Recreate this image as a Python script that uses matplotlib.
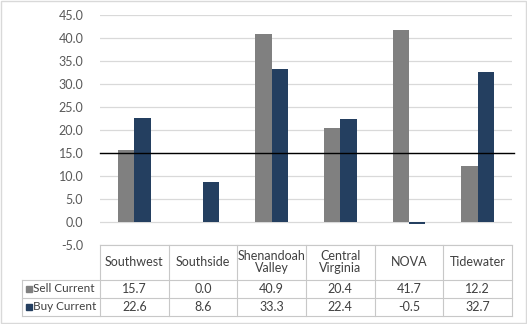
import numpy as np
import matplotlib.pyplot as plt
from matplotlib.patches import Rectangle

categories = ["Southwest", "Southside", "Shenandoah\nValley", "Central\nVirginia", "NOVA", "Tidewater"]
sell_current = [15.7, 0.0, 40.9, 20.4, 41.7, 12.2]
buy_current = [22.6, 8.6, 33.3, 22.4, -0.5, 32.7]
series_names = ["Sell Current", "Buy Current"]
series_colors = ["#808080", "#243F60"]
ref_level = 15
yticks = np.arange(-5, 46, 5)

W, H = 527, 324
fig = plt.figure(figsize=(W / 100, H / 100), dpi=100)
font = "Lato"
txt_col = "#404040"
fs = 9

# plot area in pixel coords
px_l, px_r, px_top, px_bot = 100, 512, 15, 245
ax = fig.add_axes([px_l / W, 1 - px_bot / H, (px_r - px_l) / W, (px_bot - px_top) / H])
n = len(categories)
x = np.arange(n)
bw = 0.24
ax.bar(x - bw / 2, sell_current, bw, color=series_colors[0], zorder=3)
ax.bar(x + bw / 2, buy_current, bw, color=series_colors[1], zorder=3)
ax.set_xlim(-0.5, n - 0.5)
ax.set_ylim(-5, 45)
ax.set_yticks(yticks)
ax.set_yticklabels([f"{v:.1f}" for v in yticks], fontsize=fs, color="#595959", family=font)
ax.yaxis.grid(True, color="#D9D9D9", lw=0.9, zorder=0)
ax.set_xticks([])
ax.tick_params(axis="y", length=0, pad=12)
for s in ax.spines.values():
    s.set_visible(False)
ax.axhline(ref_level, color="black", lw=1.0, zorder=4, xmax=1.005, clip_on=False)

# data table
tab = fig.add_axes([0, 0, 1, 1])
tab.set_xlim(0, W)
tab.set_ylim(H, 0)
tab.axis("off")
lc = "#C8C8C8"
col_w = (px_r - px_l) / n
y_head, y_r1, y_r2, y_end = 245, 280, 298, 316
x_left = 22
# horizontal lines
tab.plot([px_l, px_r], [y_head, y_head], color=lc, lw=0.8)
for yy in (y_r1, y_r2, y_end):
    tab.plot([x_left, px_r], [yy, yy], color=lc, lw=0.8)
# vertical lines
tab.plot([x_left, x_left], [y_r1, y_end], color=lc, lw=0.8)
for i in range(n + 1):
    xx = px_l + i * col_w
    tab.plot([xx, xx], [y_head, y_end], color=lc, lw=0.8)
for i, c in enumerate(categories):
    tab.text(px_l + (i + 0.5) * col_w, (y_head + y_r1) / 2, c, ha="center", va="center",
             fontsize=fs, color=txt_col, family=font, linespacing=1.0)
rows = [(y_r1, y_r2, sell_current), (y_r2, y_end, buy_current)]
for (y0, y1, vals), name, colr in zip(rows, series_names, series_colors):
    ym = (y0 + y1) / 2
    tab.add_patch(Rectangle((26, ym - 3), 6, 6, color=colr))
    tab.text(33, ym, name, ha="left", va="center", fontsize=8.5, color=txt_col, family=font)
    for i, v in enumerate(vals):
        tab.text(px_l + (i + 0.5) * col_w, ym, f"{v:.1f}", ha="center", va="center",
                 fontsize=fs, color=txt_col, family=font)

# outer frame
tab.add_patch(Rectangle((0.5, 0.5), W - 1.5, H - 1.5, fill=False, ec="#D9D9D9", lw=1))

fig.savefig("out.png", dpi=100)
